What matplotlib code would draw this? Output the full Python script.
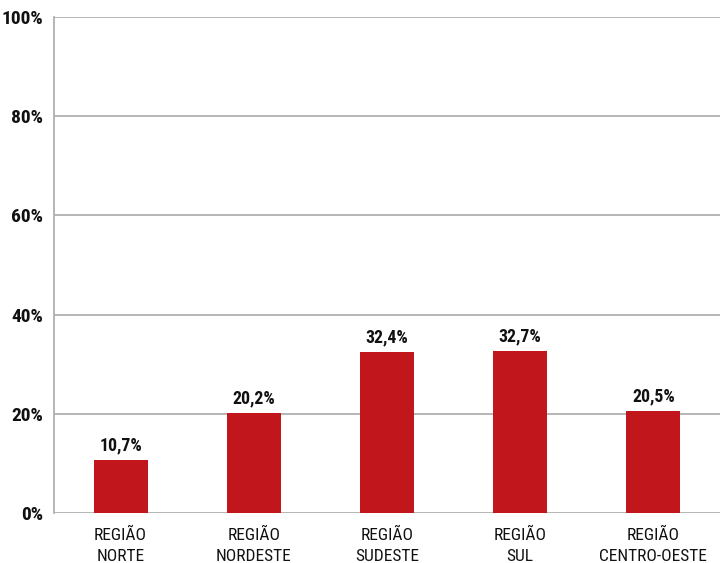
import matplotlib
matplotlib.use("Agg")
import matplotlib.pyplot as plt
from matplotlib import font_manager

categories = ["REGIÃO\nNORTE", "REGIÃO\nNORDESTE", "REGIÃO\nSUDESTE", "REGIÃO\nSUL", "REGIÃO\nCENTRO-OESTE"]
values = [10.7, 20.2, 32.4, 32.7, 20.5]
value_labels = ["10,7%", "20,2%", "32,4%", "32,7%", "20,5%"]
yticks = [0, 20, 40, 60, 80, 100]
ytick_labels = ["0%", "20%", "40%", "60%", "80%", "100%"]

names = {f.name for f in font_manager.fontManager.ttflist}
fam = "Roboto"
for cand in ["Roboto Condensed", "Open Sans Condensed", "Liberation Sans Narrow", "Roboto"]:
    if cand in names:
        fam = cand
        break
plt.rcParams['font.family'] = [fam, 'DejaVu Sans']

fig = plt.figure(figsize=(7.2, 5.63), dpi=100)
ax = fig.add_axes([54/720, 1-513/563, 666/720, 496/563])

x = range(len(categories))
ax.bar(x, values, width=0.405, color="#c1161b", zorder=3)
for xi, v, lab in zip(x, values, value_labels):
    ax.annotate(lab, (xi, v), xytext=(0, 4), textcoords="offset points",
                ha="center", va="bottom", fontsize=12.8, fontweight="bold", color="#111111")

ax.set_xlim(-0.5, 4.5)
ax.set_ylim(0, 100)
ax.set_yticks(yticks)
ax.set_yticklabels(ytick_labels, fontsize=14, fontweight="bold", color="#111111")
ax.set_xticks(list(x))
ax.set_xticklabels(categories, fontsize=12.5, color="#111111", linespacing=1.45)
ax.tick_params(axis="both", length=0)
ax.tick_params(axis="y", pad=8)
ax.tick_params(axis="x", pad=11)
ax.yaxis.grid(True, color="#b0b0b0", linewidth=1.3, zorder=0)
for s in ["top", "right"]:
    ax.spines[s].set_visible(False)
ax.spines["bottom"].set_visible(False)
ax.spines["left"].set_color("#b0b0b0")
ax.spines["left"].set_linewidth(1.3)

fig.savefig("out.png", dpi=100)
